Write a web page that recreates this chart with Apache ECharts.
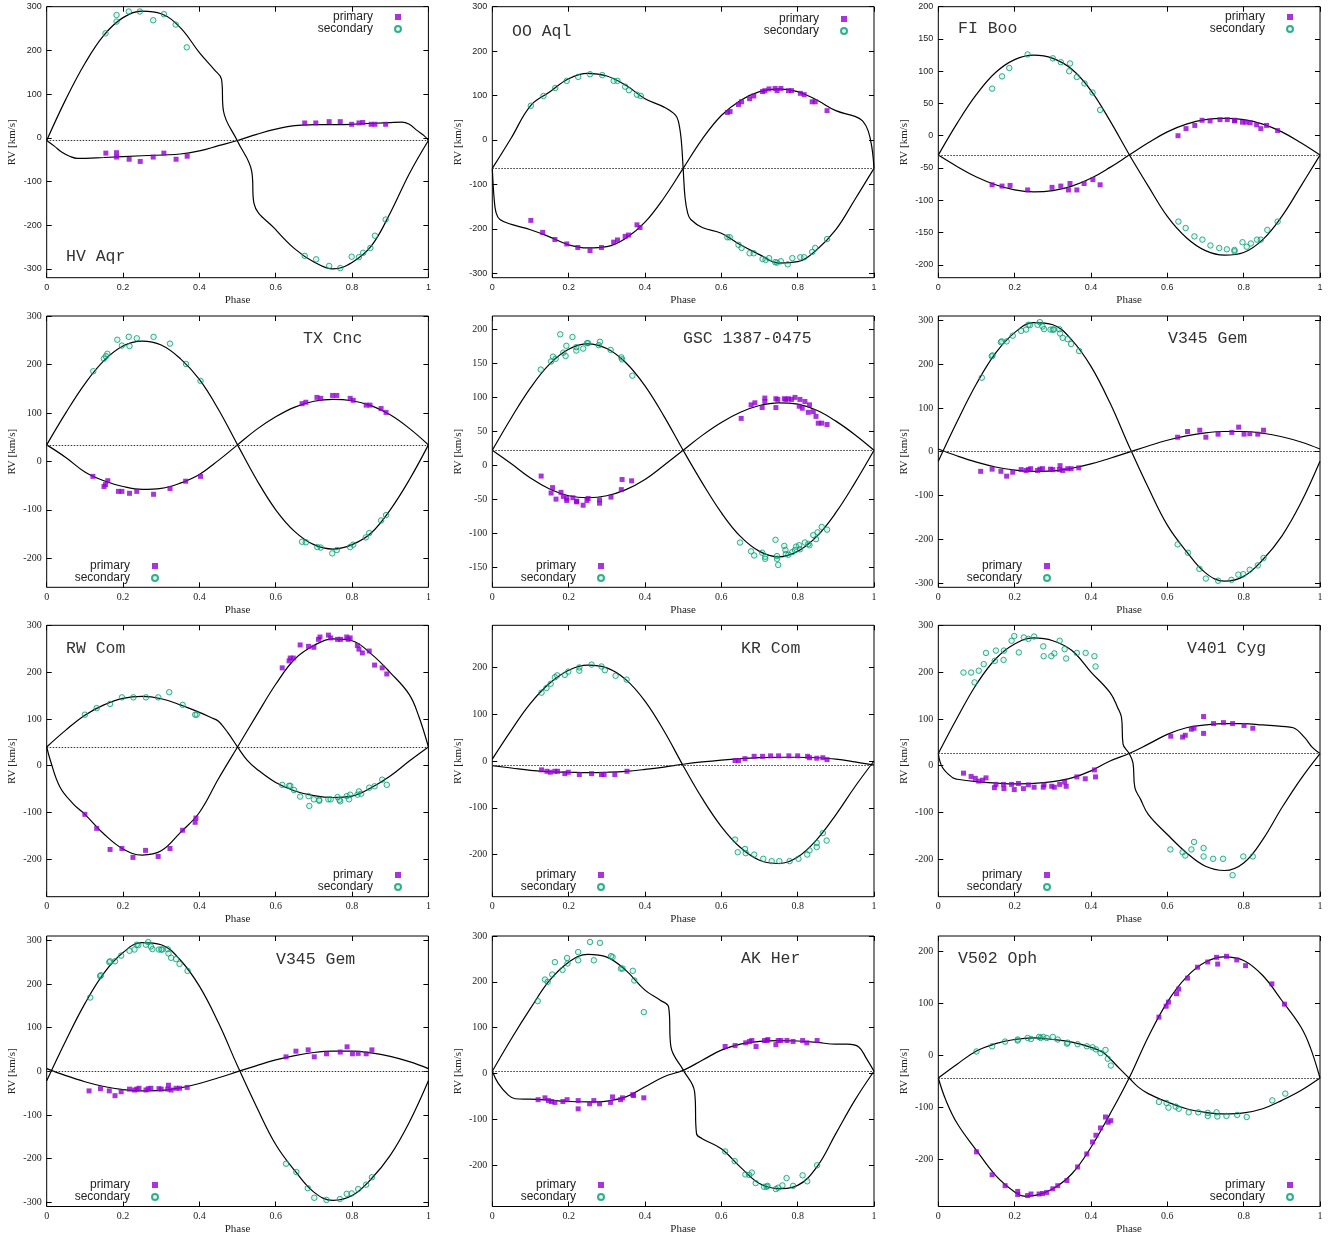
<!DOCTYPE html>
<html><head><meta charset="utf-8">
<script src="https://cdn.jsdelivr.net/npm/echarts@6/dist/echarts.min.js"></script>
<style>html,body{margin:0;padding:0;background:#fff}#c{width:1335px;height:1237px}</style>
</head><body><div id="c"></div>
<script>
// ---------- panel titles, systemic velocities, y ticks ----------
const titles = ['HV Aqr','OO Aql','FI Boo','TX Cnc','GSC 1387-0475','V345 Gem','RW Com','KR Com','V401 Cyg','V345 Gem','AK Her','V502 Oph'];
const gammas = [-6,-64,-30,34,22,0,40,-9,26,0,5,-43];
const yMins = [-320,-310,-220,-260,-180,-310,-280,-290,-280,-310,-290,-290];
const yMaxs = [300,300,200,300,220,310,300,290,300,310,300,230];
const ticks300 = [-300,-200,-100,0,100,200,300];
const ticks200x50 = [-200,-150,-100,-50,0,50,100,150,200];
const ticks200to300 = [-200,-100,0,100,200,300];
const ticks150to200 = [-150,-100,-50,0,50,100,150,200];
const ticks200 = [-200,-100,0,100,200];
const phaseTicks = [0,0.2,0.4,0.6,0.8,1];

// ---------- HV Aqr ----------
const hvAqrPrimary = [[0.155,-35],[0.183,-34],[0.183,-44],[0.216,-49],[0.245,-54],[0.279,-44],[0.307,-35],[0.339,-49],[0.368,-42],[0.676,34],[0.705,34],[0.740,37],[0.769,37],[0.799,31],[0.818,34],[0.828,35],[0.850,31],[0.860,31],[0.888,31]];
const hvAqrSecondary = [[0.154,239],[0.183,281],[0.183,266],[0.215,289],[0.244,289],[0.279,269],[0.307,283],[0.338,259],[0.367,207],[0.676,-270],[0.706,-278],[0.740,-293],[0.769,-298],[0.799,-272],[0.818,-273],[0.829,-263],[0.848,-252],[0.860,-224],[0.888,-187]];
const hvAqrModelSecondary = [[0,-6],[0.05,88],[0.1,170],[0.15,235],[0.2,275],[0.25,290],[0.3,284],[0.35,252],[0.4,195],[0.44,155],[0.458,134],[0.463,62],[0.5,-8],[0.537,-76],[0.543,-150],[0.6,-210],[0.65,-254],[0.7,-284],[0.75,-300],[0.8,-285],[0.85,-248],[0.9,-172],[0.95,-82],[1,-6]];
const hvAqrModelPrimary = [[0,-6],[0.02,-19],[0.04,-33],[0.06,-42],[0.08,-47],[0.15,-45],[0.25,-41],[0.35,-37],[0.4,-30],[0.45,-18],[0.5,-6],[0.55,8],[0.6,20],[0.65,28],[0.7,30],[0.8,31],[0.9,35],[0.93,36],[0.95,31],[0.97,17],[0.99,4],[1,-6]];

// ---------- OO Aql ----------
const ooAqlPrimary = [[0.101,-181],[0.132,-208],[0.164,-224],[0.195,-234],[0.224,-242],[0.256,-249],[0.286,-242],[0.318,-230],[0.328,-225],[0.348,-217],[0.357,-214],[0.379,-191],[0.387,-197],[0.616,62],[0.623,64],[0.645,80],[0.653,86],[0.674,93],[0.685,99],[0.708,109],[0.714,111],[0.725,115],[0.741,116],[0.746,111],[0.756,116],[0.776,111],[0.784,111],[0.807,105],[0.817,102],[0.838,86],[0.846,86],[0.877,66]];
const ooAqlSecondary = [[0.101,77],[0.134,99],[0.165,117],[0.195,133],[0.225,142],[0.256,148],[0.288,146],[0.318,133],[0.328,133],[0.348,120],[0.358,112],[0.379,102],[0.389,99],[0.616,-219],[0.622,-219],[0.645,-236],[0.653,-243],[0.674,-255],[0.685,-255],[0.708,-268],[0.716,-270],[0.725,-266],[0.741,-275],[0.746,-276],[0.756,-273],[0.774,-280],[0.786,-266],[0.807,-264],[0.817,-264],[0.838,-252],[0.846,-243],[0.877,-223]];
const ooAqlModelSecondary = [[0,-64],[0.05,5],[0.1,77],[0.15,108],[0.2,138],[0.25,150],[0.3,144],[0.35,123],[0.4,93],[0.45,74],[0.48,56],[0.488,40],[0.495,0],[0.5,-64],[0.505,-130],[0.512,-165],[0.52,-179],[0.55,-197],[0.6,-210],[0.65,-236],[0.7,-258],[0.75,-277],[0.8,-274],[0.85,-247],[0.9,-202],[0.95,-134],[1,-64]];
const ooAqlModelPrimary = [[0,-64],[0.005,-134],[0.01,-164],[0.02,-179],[0.05,-190],[0.1,-202],[0.15,-218],[0.2,-236],[0.25,-243],[0.3,-240],[0.35,-221],[0.4,-185],[0.45,-130],[0.5,-64],[0.55,2],[0.6,55],[0.65,89],[0.7,109],[0.75,115],[0.8,109],[0.85,90],[0.9,66],[0.95,53],[0.97,43],[0.985,20],[0.995,-20],[1,-64]];

// ---------- FI Boo ----------
const fiBooPrimary = [[0.141,-76],[0.167,-78],[0.188,-77],[0.234,-84],[0.298,-80],[0.321,-78],[0.341,-84],[0.345,-74],[0.363,-84],[0.382,-74],[0.405,-68],[0.424,-76],[0.628,0],[0.649,11],[0.672,16],[0.691,24],[0.712,23],[0.738,25],[0.757,25],[0.776,23],[0.777,24],[0.797,21],[0.806,21],[0.817,20],[0.834,17],[0.845,11],[0.860,16],[0.889,8]];
const fiBooSecondary = [[0.141,73],[0.167,92],[0.186,105],[0.234,126],[0.300,120],[0.321,114],[0.345,112],[0.343,100],[0.363,91],[0.383,81],[0.404,67],[0.424,40],[0.629,-133],[0.648,-143],[0.671,-156],[0.692,-161],[0.713,-170],[0.736,-174],[0.756,-176],[0.776,-177],[0.776,-179],[0.797,-165],[0.808,-172],[0.819,-167],[0.835,-161],[0.845,-161],[0.862,-146],[0.889,-133]];
const fiBooModelSecondary = [[0,-30],[0.05,20],[0.1,64],[0.15,98],[0.2,118],[0.25,125],[0.3,120],[0.35,103],[0.4,70],[0.45,23],[0.5,-29],[0.55,-78],[0.6,-125],[0.65,-158],[0.7,-178],[0.75,-185],[0.8,-181],[0.85,-161],[0.9,-125],[0.95,-78],[1,-30]];
const fiBooModelPrimary = [[0,-30],[0.05,-48],[0.1,-64],[0.15,-76],[0.2,-84],[0.25,-87],[0.3,-85],[0.35,-78],[0.4,-66],[0.45,-49],[0.5,-30],[0.55,-11],[0.6,6],[0.65,18],[0.7,25],[0.75,27],[0.8,25],[0.85,18],[0.9,6],[0.95,-11],[1,-30]];

// ---------- TX Cnc ----------
const txCncPrimary = [[0.121,-31],[0.150,-52],[0.154,-48],[0.160,-40],[0.188,-62],[0.197,-62],[0.217,-66],[0.236,-62],[0.280,-68],[0.323,-56],[0.364,-41],[0.403,-31],[0.669,119],[0.679,122],[0.708,132],[0.718,130],[0.749,136],[0.760,136],[0.795,130],[0.803,126],[0.837,116],[0.847,116],[0.876,109],[0.889,101]];
const txCncSecondary = [[0.122,186],[0.150,212],[0.155,217],[0.159,222],[0.185,251],[0.197,239],[0.215,257],[0.217,238],[0.236,254],[0.280,257],[0.323,243],[0.365,201],[0.403,166],[0.669,-166],[0.679,-167],[0.709,-177],[0.718,-178],[0.748,-190],[0.760,-183],[0.795,-177],[0.803,-172],[0.836,-157],[0.845,-148],[0.876,-122],[0.889,-111]];
const txCncModelSecondary = [[0,34],[0.05,100],[0.1,160],[0.15,208],[0.2,238],[0.25,248],[0.3,240],[0.35,212],[0.4,169],[0.45,107],[0.5,34],[0.55,-38],[0.6,-100],[0.65,-145],[0.7,-172],[0.75,-181],[0.8,-172],[0.85,-148],[0.9,-100],[0.95,-38],[1,34]];
const txCncModelPrimary = [[0,34],[0.05,8],[0.1,-22],[0.15,-40],[0.2,-52],[0.25,-58],[0.3,-56],[0.35,-45],[0.4,-27],[0.45,2],[0.5,34],[0.55,66],[0.6,92],[0.65,112],[0.7,124],[0.75,128],[0.8,125],[0.85,115],[0.9,96],[0.95,68],[1,34]];

// ---------- GSC 1387-0475 ----------
const gscPrimary = [[0.128,-16],[0.158,-33],[0.154,-41],[0.167,-50],[0.180,-40],[0.186,-46],[0.195,-52],[0.195,-49],[0.211,-48],[0.221,-54],[0.221,-53],[0.238,-59],[0.248,-52],[0.251,-49],[0.281,-51],[0.281,-56],[0.311,-47],[0.338,-36],[0.340,-21],[0.365,-23],[0.652,69],[0.678,89],[0.688,92],[0.707,85],[0.714,99],[0.714,94],[0.743,85],[0.743,98],[0.748,97],[0.765,98],[0.769,97],[0.776,98],[0.784,97],[0.793,100],[0.806,97],[0.804,87],[0.812,84],[0.819,94],[0.828,78],[0.831,89],[0.841,79],[0.848,72],[0.854,62],[0.863,62],[0.877,60]];
const gscSecondary = [[0.127,141],[0.154,153],[0.159,160],[0.166,157],[0.178,193],[0.186,166],[0.192,161],[0.194,176],[0.210,189],[0.220,174],[0.220,169],[0.238,172],[0.248,180],[0.251,180],[0.279,177],[0.282,182],[0.310,170],[0.338,159],[0.340,156],[0.367,132],[0.649,-114],[0.678,-127],[0.686,-133],[0.707,-129],[0.715,-135],[0.715,-138],[0.742,-110],[0.746,-134],[0.746,-138],[0.749,-147],[0.765,-119],[0.768,-125],[0.769,-131],[0.776,-132],[0.786,-128],[0.793,-125],[0.796,-120],[0.804,-118],[0.806,-124],[0.819,-114],[0.828,-116],[0.831,-118],[0.841,-103],[0.848,-109],[0.852,-99],[0.863,-91],[0.877,-95]];
const gscModelSecondary = [[0,22],[0.05,70],[0.1,114],[0.15,149],[0.2,171],[0.25,179],[0.3,172],[0.35,151],[0.4,117],[0.45,72],[0.5,22],[0.55,-26],[0.6,-70],[0.65,-105],[0.7,-127],[0.75,-135],[0.8,-127],[0.85,-105],[0.9,-70],[0.95,-26],[1,22]];
const gscModelPrimary = [[0,22],[0.05,2],[0.1,-19],[0.15,-35],[0.2,-45],[0.25,-48],[0.3,-45],[0.35,-36],[0.4,-21],[0.45,0],[0.5,22],[0.55,44],[0.6,63],[0.65,78],[0.7,88],[0.75,92],[0.8,90],[0.85,81],[0.9,65],[0.95,45],[1,22]];

// ---------- V345 Gem ----------
const v345GemPrimary = [[0.111,-45],[0.141,-40],[0.164,-45],[0.179,-56],[0.195,-47],[0.217,-41],[0.230,-43],[0.236,-41],[0.242,-39],[0.260,-43],[0.266,-40],[0.273,-39],[0.294,-40],[0.300,-41],[0.317,-41],[0.319,-32],[0.326,-43],[0.339,-39],[0.348,-39],[0.368,-37],[0.627,33],[0.653,46],[0.685,49],[0.701,33],[0.733,40],[0.769,44],[0.787,56],[0.801,40],[0.816,41],[0.837,40],[0.852,49]];
const v345GemSecondary = [[0.114,169],[0.140,218],[0.142,220],[0.164,250],[0.166,252],[0.179,252],[0.195,265],[0.217,276],[0.230,279],[0.236,290],[0.240,289],[0.260,290],[0.266,296],[0.273,286],[0.277,280],[0.294,279],[0.300,279],[0.303,279],[0.317,280],[0.319,270],[0.326,260],[0.339,257],[0.348,246],[0.369,230],[0.627,-212],[0.654,-231],[0.684,-268],[0.701,-290],[0.733,-295],[0.768,-293],[0.786,-281],[0.799,-280],[0.816,-270],[0.837,-260],[0.852,-243]];
const v345GemModelSecondary = [[0,-22],[0.05,70],[0.1,155],[0.15,225],[0.2,272],[0.25,295],[0.3,290],[0.35,255],[0.4,195],[0.45,111],[0.5,12],[0.55,-82],[0.6,-168],[0.65,-228],[0.7,-277],[0.75,-296],[0.8,-285],[0.85,-247],[0.9,-193],[0.95,-117],[1,-22]];
const v345GemModelPrimary = [[0,6],[0.05,-10],[0.1,-24],[0.15,-35],[0.2,-42],[0.25,-45],[0.3,-44],[0.35,-38],[0.4,-28],[0.45,-15],[0.5,-1],[0.55,13],[0.6,26],[0.65,36],[0.7,43],[0.75,46],[0.8,46],[0.85,42],[0.9,34],[0.95,22],[1,6]];

// ---------- RW Com ----------
const rwComPrimary = [[0.100,-104],[0.131,-134],[0.166,-179],[0.197,-177],[0.226,-196],[0.259,-181],[0.292,-194],[0.323,-177],[0.356,-138],[0.389,-121],[0.391,-112],[0.617,209],[0.635,224],[0.638,230],[0.646,230],[0.664,258],[0.686,255],[0.700,253],[0.712,270],[0.716,275],[0.738,279],[0.744,273],[0.762,270],[0.770,270],[0.786,275],[0.790,270],[0.795,273],[0.814,257],[0.818,249],[0.827,241],[0.845,245],[0.859,215],[0.879,209],[0.891,196]];
const rwComSecondary = [[0.100,109],[0.131,123],[0.166,132],[0.197,146],[0.227,146],[0.260,146],[0.292,146],[0.321,157],[0.356,130],[0.389,109],[0.393,109],[0.617,-41],[0.635,-43],[0.638,-43],[0.648,-52],[0.664,-66],[0.686,-65],[0.688,-86],[0.700,-72],[0.714,-73],[0.714,-75],[0.738,-72],[0.744,-72],[0.762,-67],[0.767,-73],[0.769,-76],[0.786,-65],[0.792,-72],[0.795,-62],[0.814,-62],[0.818,-55],[0.824,-60],[0.845,-47],[0.859,-44],[0.879,-30],[0.891,-41]];
const rwComModelSecondary = [[0,40],[0.05,76],[0.1,108],[0.15,130],[0.2,144],[0.25,148],[0.3,143],[0.35,130],[0.4,114],[0.43,103],[0.45,95],[0.475,70],[0.5,40],[0.525,12],[0.55,-7],[0.6,-36],[0.65,-54],[0.7,-64],[0.75,-68],[0.8,-65],[0.85,-47],[0.9,-22],[0.95,10],[1,40]];
const rwComModelPrimary = [[0,40],[0.01,10],[0.035,-46],[0.07,-82],[0.1,-104],[0.15,-146],[0.2,-178],[0.25,-191],[0.3,-182],[0.35,-143],[0.4,-100],[0.45,-28],[0.5,40],[0.55,108],[0.6,174],[0.65,228],[0.7,257],[0.75,271],[0.8,267],[0.85,239],[0.9,199],[0.95,152],[0.975,105],[1,40]];

// ---------- KR Com ----------
const krComPrimary = [[0.129,-19],[0.143,-22],[0.152,-24],[0.164,-22],[0.171,-22],[0.190,-27],[0.199,-24],[0.228,-29],[0.260,-27],[0.286,-29],[0.293,-29],[0.321,-29],[0.353,-22],[0.636,1],[0.645,1],[0.662,5],[0.686,10],[0.708,10],[0.729,11],[0.750,11],[0.777,11],[0.800,11],[0.826,10],[0.831,7],[0.850,6],[0.866,7],[0.877,3]];
const krComSecondary = [[0.129,146],[0.142,156],[0.153,165],[0.164,179],[0.170,183],[0.190,184],[0.199,191],[0.228,193],[0.228,200],[0.260,206],[0.286,202],[0.295,194],[0.323,182],[0.352,174],[0.636,-168],[0.643,-195],[0.662,-188],[0.664,-197],[0.686,-200],[0.710,-209],[0.732,-214],[0.752,-214],[0.779,-214],[0.802,-209],[0.825,-200],[0.831,-191],[0.850,-175],[0.850,-184],[0.866,-154],[0.876,-170]];
const krComModelSecondary = [[0,4],[0.05,66],[0.1,123],[0.15,166],[0.2,194],[0.25,205],[0.3,199],[0.35,174],[0.4,128],[0.45,64],[0.5,-10],[0.55,-80],[0.6,-140],[0.65,-185],[0.7,-212],[0.75,-219],[0.8,-205],[0.85,-168],[0.9,-115],[0.95,-55],[1,0]];
const krComModelPrimary = [[0,-10],[0.05,-15],[0.1,-20],[0.15,-23],[0.2,-24],[0.25,-25],[0.3,-24],[0.35,-22],[0.4,-18],[0.45,-13],[0.5,-7],[0.55,-2],[0.6,2],[0.65,5],[0.7,7],[0.75,8],[0.8,8],[0.85,7],[0.9,4],[0.95,-2],[1,-9]];

// ---------- V401 Cyg ----------
const v401CygPrimary = [[0.066,-16],[0.086,-23],[0.097,-27],[0.106,-33],[0.116,-31],[0.125,-26],[0.147,-47],[0.151,-40],[0.171,-40],[0.172,-49],[0.192,-40],[0.199,-51],[0.210,-38],[0.223,-49],[0.236,-41],[0.251,-46],[0.275,-46],[0.277,-41],[0.297,-44],[0.304,-46],[0.318,-40],[0.331,-35],[0.335,-44],[0.363,-24],[0.385,-28],[0.409,-9],[0.412,-24],[0.609,63],[0.640,61],[0.647,65],[0.663,78],[0.670,80],[0.695,105],[0.695,69],[0.721,90],[0.747,92],[0.771,90],[0.801,86],[0.824,80]];
const v401CygSecondary = [[0.066,199],[0.086,199],[0.095,178],[0.106,203],[0.119,217],[0.125,241],[0.148,224],[0.151,246],[0.171,226],[0.172,246],[0.192,267],[0.199,277],[0.211,242],[0.224,274],[0.236,271],[0.251,276],[0.275,255],[0.276,234],[0.296,234],[0.304,240],[0.318,267],[0.331,249],[0.335,229],[0.363,241],[0.386,241],[0.409,234],[0.412,212],[0.608,-179],[0.640,-185],[0.647,-192],[0.663,-179],[0.670,-163],[0.695,-176],[0.695,-194],[0.720,-199],[0.746,-199],[0.771,-234],[0.799,-194],[0.824,-194]];
const v401CygModelSecondary = [[0,26],[0.05,103],[0.1,174],[0.15,228],[0.2,260],[0.25,273],[0.3,267],[0.35,246],[0.4,200],[0.45,156],[0.47,124],[0.48,103],[0.484,46],[0.5,26],[0.51,6],[0.515,-47],[0.53,-72],[0.55,-104],[0.6,-147],[0.65,-186],[0.7,-215],[0.75,-224],[0.8,-208],[0.85,-158],[0.9,-90],[0.95,-28],[1,26]];
const v401CygModelPrimary = [[0,26],[0.011,-4],[0.038,-26],[0.05,-29],[0.1,-34],[0.15,-37],[0.2,-39],[0.25,-38],[0.3,-34],[0.35,-26],[0.4,-11],[0.45,10],[0.5,26],[0.55,46],[0.6,67],[0.65,81],[0.7,87],[0.75,90],[0.8,90],[0.85,87],[0.9,84],[0.93,81],[0.96,60],[0.98,39],[1,26]];

// ---------- AK Her ----------
const akHerPrimary = [[0.120,-57],[0.138,-53],[0.147,-59],[0.155,-61],[0.164,-63],[0.185,-61],[0.196,-57],[0.225,-59],[0.225,-77],[0.255,-66],[0.266,-59],[0.281,-66],[0.310,-63],[0.315,-51],[0.336,-57],[0.341,-53],[0.368,-46],[0.370,-48],[0.397,-53],[0.610,59],[0.636,61],[0.664,67],[0.674,70],[0.680,72],[0.691,59],[0.713,72],[0.720,72],[0.722,74],[0.743,63],[0.749,72],[0.756,72],[0.772,72],[0.788,70],[0.813,72],[0.824,67],[0.851,72]];
const akHerSecondary = [[0.119,158],[0.138,205],[0.145,200],[0.157,216],[0.164,243],[0.184,226],[0.196,252],[0.197,240],[0.225,265],[0.225,247],[0.256,287],[0.266,247],[0.282,285],[0.311,256],[0.315,254],[0.337,229],[0.341,229],[0.368,224],[0.372,203],[0.397,134],[0.610,-170],[0.635,-191],[0.663,-220],[0.673,-221],[0.680,-216],[0.690,-239],[0.712,-247],[0.719,-247],[0.721,-245],[0.743,-252],[0.749,-249],[0.760,-244],[0.771,-228],[0.788,-245],[0.813,-222],[0.825,-235],[0.851,-200]];
const akHerModelSecondary = [[0,5],[0.05,76],[0.1,142],[0.15,203],[0.2,243],[0.25,260],[0.3,254],[0.35,225],[0.4,182],[0.44,160],[0.462,145],[0.468,58],[0.5,8],[0.53,-40],[0.535,-131],[0.55,-142],[0.6,-164],[0.65,-204],[0.7,-240],[0.75,-251],[0.8,-244],[0.85,-204],[0.9,-131],[0.95,-58],[1,5]];
const akHerModelPrimary = [[0,5],[0.016,-22],[0.042,-47],[0.06,-55],[0.1,-56],[0.15,-58],[0.2,-61],[0.25,-62],[0.3,-60],[0.35,-51],[0.4,-29],[0.45,-7],[0.5,7],[0.55,29],[0.6,51],[0.65,64],[0.7,70],[0.75,72],[0.8,71],[0.85,68],[0.9,64],[0.93,64],[0.96,58],[0.98,33],[1,5]];

// ---------- V502 Oph ----------
const v502OphPrimary = [[0.100,-185],[0.141,-229],[0.175,-250],[0.208,-261],[0.208,-267],[0.234,-269],[0.243,-266],[0.264,-266],[0.273,-265],[0.284,-263],[0.300,-256],[0.313,-250],[0.337,-240],[0.365,-214],[0.389,-189],[0.404,-166],[0.413,-153],[0.425,-139],[0.438,-118],[0.445,-128],[0.452,-125],[0.578,74],[0.597,95],[0.603,103],[0.624,119],[0.630,128],[0.653,149],[0.679,170],[0.706,180],[0.729,189],[0.732,176],[0.755,191],[0.782,184],[0.805,173],[0.874,138],[0.907,99]];
const v502OphSecondary = [[0.100,8],[0.141,18],[0.175,27],[0.208,31],[0.208,29],[0.234,34],[0.243,32],[0.264,36],[0.268,34],[0.275,36],[0.284,34],[0.300,36],[0.313,31],[0.337,23],[0.339,25],[0.365,22],[0.389,18],[0.404,16],[0.413,12],[0.425,5],[0.438,11],[0.444,-6],[0.452,-19],[0.578,-89],[0.598,-91],[0.603,-100],[0.622,-98],[0.630,-102],[0.656,-109],[0.681,-109],[0.706,-110],[0.706,-116],[0.729,-109],[0.731,-117],[0.755,-116],[0.783,-114],[0.808,-118],[0.875,-86],[0.909,-73]];
const v502OphModelSecondary = [[0,-43],[0.05,-16],[0.1,9],[0.15,23],[0.2,31],[0.25,34],[0.3,31],[0.35,26],[0.4,16],[0.43,7],[0.45,-6],[0.475,-25],[0.5,-43],[0.525,-61],[0.55,-73],[0.6,-89],[0.65,-102],[0.7,-109],[0.75,-112],[0.8,-110],[0.85,-102],[0.9,-86],[0.95,-67],[1,-43]];
const v502OphModelPrimary = [[0,-43],[0.02,-86],[0.05,-131],[0.1,-182],[0.15,-230],[0.2,-262],[0.225,-270],[0.25,-269],[0.3,-256],[0.35,-227],[0.4,-176],[0.45,-112],[0.5,-43],[0.55,36],[0.6,103],[0.65,151],[0.7,180],[0.75,190],[0.8,183],[0.85,154],[0.9,106],[0.95,55],[0.975,15],[1,-43]];

// ---------- layout (positions only) ----------
const colLeft = [46.7, 492.3, 938.3];
const plotW = 381.7;
const rowTop = [6.7, 316, 625.3, 936];
const rowH = [271, 271.3, 271.4, 270.5];
const titlePos = [[66,257],[512,32],[958,29],[303,339],[683,339],[1168,339],[66,649],[741,649],[1187,649],[276,960],[741,959],[958,959]];
const legendPos = [[399,17],[845,19],[1291,17],[156,566],[602,566],[1048,566],[399,875],[602,875],[1048,875],[156,1185],[602,1185],[1291,1185]];

const panels = [
  [hvAqrPrimary, hvAqrSecondary, hvAqrModelPrimary, hvAqrModelSecondary, ticks300],
  [ooAqlPrimary, ooAqlSecondary, ooAqlModelPrimary, ooAqlModelSecondary, ticks300],
  [fiBooPrimary, fiBooSecondary, fiBooModelPrimary, fiBooModelSecondary, ticks200x50],
  [txCncPrimary, txCncSecondary, txCncModelPrimary, txCncModelSecondary, ticks200to300],
  [gscPrimary, gscSecondary, gscModelPrimary, gscModelSecondary, ticks150to200],
  [v345GemPrimary, v345GemSecondary, v345GemModelPrimary, v345GemModelSecondary, ticks300],
  [rwComPrimary, rwComSecondary, rwComModelPrimary, rwComModelSecondary, ticks200to300],
  [krComPrimary, krComSecondary, krComModelPrimary, krComModelSecondary, ticks200],
  [v401CygPrimary, v401CygSecondary, v401CygModelPrimary, v401CygModelSecondary, ticks200to300],
  [v345GemPrimary, v345GemSecondary, v345GemModelPrimary, v345GemModelSecondary, ticks300],
  [akHerPrimary, akHerSecondary, akHerModelPrimary, akHerModelSecondary, ticks200to300],
  [v502OphPrimary, v502OphSecondary, v502OphModelPrimary, v502OphModelSecondary, ticks200]
];

const PURPLE = '#9400d3', GREEN = '#009e73';
const option = {animation:false, backgroundColor:'#fff', grid:[], xAxis:[], yAxis:[], series:[], title:[], legend:[]};

panels.forEach((p, i) => {
  const [prim, sec, modP, modS, yT] = p;
  const col = i % 3, row = Math.floor(i / 3);
  const tickFont = row === 0 ? {fontFamily:'Liberation Sans', fontSize:9} : {fontFamily:'Liberation Serif', fontSize:10};
  const nameFont = {fontFamily:'Liberation Serif', fontSize:11, color:'#222'};
  const tick = {show:true, inside:true, length:5, lineStyle:{color:'#000', width:1}};
  const noLine = {show:false, onZero:false};
  option.grid.push({left:colLeft[col], top:rowTop[row], width:plotW, height:rowH[row], show:true,
    borderColor:'#000', borderWidth:1, backgroundColor:'#fff', containLabel:false, outerBoundsMode:'none'});
  option.xAxis.push({type:'value', gridIndex:i, min:0, max:1, interval:0.2, position:'bottom',
    axisLine:noLine, splitLine:{show:false}, axisTick:Object.assign({}, tick, {customValues:phaseTicks}),
    axisLabel:Object.assign({margin:5, color:'#222', customValues:phaseTicks, formatter:v => String(Math.round(v*10)/10)}, tickFont),
    name:'Phase', nameLocation:'middle', nameGap:17, nameTextStyle:nameFont});
  option.xAxis.push({type:'value', gridIndex:i, min:0, max:1, interval:0.2, position:'top',
    axisLine:noLine, splitLine:{show:false}, axisTick:Object.assign({}, tick, {customValues:phaseTicks}), axisLabel:{show:false}});
  option.yAxis.push({type:'value', gridIndex:i, min:yMins[i], max:yMaxs[i], position:'left',
    axisLine:noLine, splitLine:{show:false}, axisTick:Object.assign({}, tick, {customValues:yT}),
    axisLabel:Object.assign({margin:5, color:'#222', customValues:yT}, tickFont),
    name:'RV [km/s]', nameLocation:'middle', nameGap:29, nameRotate:90, nameTextStyle:nameFont});
  option.yAxis.push({type:'value', gridIndex:i, min:yMins[i], max:yMaxs[i], position:'right',
    axisLine:noLine, splitLine:{show:false}, axisTick:Object.assign({}, tick, {customValues:yT}), axisLabel:{show:false}});

  const xi = 2*i, yi = 2*i;
  const lineBase = {type:'line', xAxisIndex:xi, yAxisIndex:yi, showSymbol:false, symbol:'none',
    smooth:0.4, lineStyle:{color:'#000', width:1.2}, silent:true, z:3};
  option.series.push(Object.assign({}, lineBase, {name:'model primary', data:modP,
    markLine:{silent:true, symbol:['none','none'], label:{show:false},
      lineStyle:{type:[1.5,1.5], color:'#333', width:1}, data:[{yAxis:gammas[i]}]}}));
  option.series.push(Object.assign({}, lineBase, {name:'model secondary', data:modS}));
  option.series.push({type:'scatter', name:'primary', xAxisIndex:xi, yAxisIndex:yi, data:prim,
    symbol:'rect', symbolSize:5, itemStyle:{color:PURPLE}, z:4});
  option.series.push({type:'scatter', name:'secondary', xAxisIndex:xi, yAxisIndex:yi, data:sec,
    symbol:'circle', symbolSize:5.5, itemStyle:{color:'rgba(0,158,115,0.15)', borderColor:GREEN, borderWidth:1}, z:4});

  option.title.push({text:titles[i], left:titlePos[i][0], top:titlePos[i][1]-9, padding:0,
    textStyle:{fontFamily:'Liberation Mono', fontSize:16.5, fontWeight:'normal', color:'#333', lineHeight:18}});
  option.legend.push({orient:'vertical', align:'right', right:1335 - (legendPos[i][0] + 3), top:legendPos[i][1] - 6,
    padding:0, itemGap:0, itemWidth:6, itemHeight:6, selectedMode:false,
    textStyle:{fontFamily:'Liberation Sans', fontSize:12, color:'#222', lineHeight:12, padding:[0,17,0,0]},
    data:[{name:'primary', icon:'rect'}, {name:'secondary', icon:'circle'}]});
});

const chart = echarts.init(document.getElementById('c'), null, {renderer:'canvas'});
chart.setOption(option);
</script>
</body></html>
